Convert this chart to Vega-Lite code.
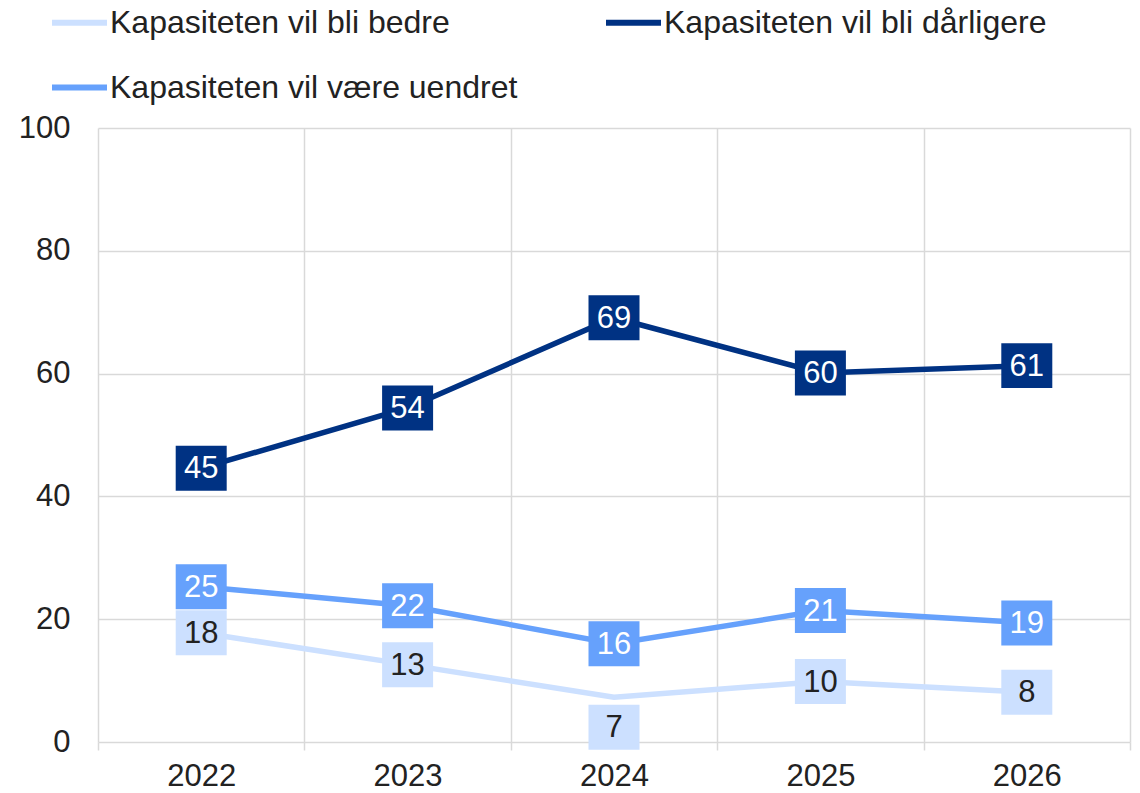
{
  "$schema": "https://vega.github.io/schema/vega-lite/v6.json",
  "width": 1032,
  "height": 614,
  "autosize": {"type": "none"},
  "padding": {"left": 98, "top": 128, "right": 10, "bottom": 51},
  "background": "white",
  "config": {
    "font": "Liberation Sans",
    "view": {"stroke": null}
  },
  "data": {
    "values": [
      {"year": "2022", "series": "Kapasiteten vil bli bedre", "value": 17.8},
      {"year": "2023", "series": "Kapasiteten vil bli bedre", "value": 12.6},
      {"year": "2024", "series": "Kapasiteten vil bli bedre", "value": 7.3},
      {"year": "2025", "series": "Kapasiteten vil bli bedre", "value": 9.85},
      {"year": "2026", "series": "Kapasiteten vil bli bedre", "value": 8.1},
      {"year": "2022", "series": "Kapasiteten vil bli dårligere", "value": 44.6},
      {"year": "2023", "series": "Kapasiteten vil bli dårligere", "value": 54.4},
      {"year": "2024", "series": "Kapasiteten vil bli dårligere", "value": 69.1},
      {"year": "2025", "series": "Kapasiteten vil bli dårligere", "value": 60.1},
      {"year": "2026", "series": "Kapasiteten vil bli dårligere", "value": 61.3},
      {"year": "2022", "series": "Kapasiteten vil være uendret", "value": 25.3},
      {"year": "2023", "series": "Kapasiteten vil være uendret", "value": 22.2},
      {"year": "2024", "series": "Kapasiteten vil være uendret", "value": 16.0},
      {"year": "2025", "series": "Kapasiteten vil være uendret", "value": 21.4},
      {"year": "2026", "series": "Kapasiteten vil være uendret", "value": 19.4}
    ]
  },
  "encoding": {
    "x": {
      "field": "year",
      "type": "nominal",
      "scale": {"type": "band", "paddingInner": 0, "paddingOuter": 0},
      "axis": {
        "title": null,
        "labelAngle": 0,
        "labelFontSize": 31,
        "labelColor": "#222222",
        "labelPadding": 11,
        "tickBand": "extent",
        "ticks": true,
        "tickSize": 8,
        "tickColor": "#d9d9d9",
        "tickWidth": 1.5,
        "grid": true,
        "gridColor": "#d9d9d9",
        "gridWidth": 1.5,
        "domain": false
      }
    },
    "y": {
      "field": "value",
      "type": "quantitative",
      "scale": {"domain": [0, 100], "nice": false},
      "axis": {
        "title": null,
        "values": [0, 20, 40, 60, 80, 100],
        "labelFontSize": 31,
        "labelColor": "#222222",
        "labelPadding": 28,
        "ticks": false,
        "domain": false,
        "grid": true,
        "gridColor": "#d9d9d9",
        "gridWidth": 1.5
      }
    }
  },
  "layer": [
    {
      "mark": {"type": "line", "strokeWidth": 5.5},
      "encoding": {
        "color": {
          "field": "series",
          "type": "nominal",
          "scale": {
            "domain": ["Kapasiteten vil bli bedre", "Kapasiteten vil være uendret", "Kapasiteten vil bli dårligere"],
            "range": ["#cce0ff", "#66a1fc", "#003283"]
          },
          "legend": {
            "title": null,
            "orient": "none",
            "legendX": -49,
            "legendY": -136,
            "columns": 2,
            "columnPadding": 76,
            "rowPadding": 18,
            "symbolType": "stroke",
            "symbolSize": 3025,
            "symbolStrokeWidth": 6,
            "labelFontSize": 32,
            "labelColor": "#222222",
            "labelOffset": 0,
            "labelLimit": 600
          }
        }
      }
    },
    {
      "transform": [{"filter": "!(datum.series === 'Kapasiteten vil bli bedre' && datum.year === '2024')"}],
      "mark": {"type": "point", "shape": "M-1,-0.882L1,-0.882L1,0.882L-1,0.882Z", "size": 2601, "filled": true, "opacity": 1},
      "encoding": {
        "color": {"field": "series", "type": "nominal"}
      }
    },
    {
      "transform": [{"filter": "datum.series === 'Kapasiteten vil bli bedre' && datum.year === '2024'"}],
      "mark": {"type": "point", "shape": "M-1,-0.882L1,-0.882L1,0.882L-1,0.882Z", "size": 2601, "filled": true, "opacity": 1, "yOffset": 30},
      "encoding": {
        "color": {"field": "series", "type": "nominal"}
      }
    },
    {
      "transform": [{"filter": "!(datum.series === 'Kapasiteten vil bli bedre' && datum.year === '2024')"}],
      "mark": {"type": "text", "fontSize": 31, "baseline": "middle", "align": "center", "dy": 1},
      "encoding": {
        "text": {"field": "value", "type": "quantitative", "format": ".0f"},
        "color": {
          "condition": {"test": "datum.series === 'Kapasiteten vil bli bedre'", "value": "#222222"},
          "value": "#ffffff"
        }
      }
    },
    {
      "transform": [{"filter": "datum.series === 'Kapasiteten vil bli bedre' && datum.year === '2024'"}],
      "mark": {"type": "text", "fontSize": 31, "baseline": "middle", "align": "center", "dy": 31, "color": "#222222"},
      "encoding": {
        "text": {"field": "value", "type": "quantitative", "format": ".0f"}
      }
    }
  ]
}
